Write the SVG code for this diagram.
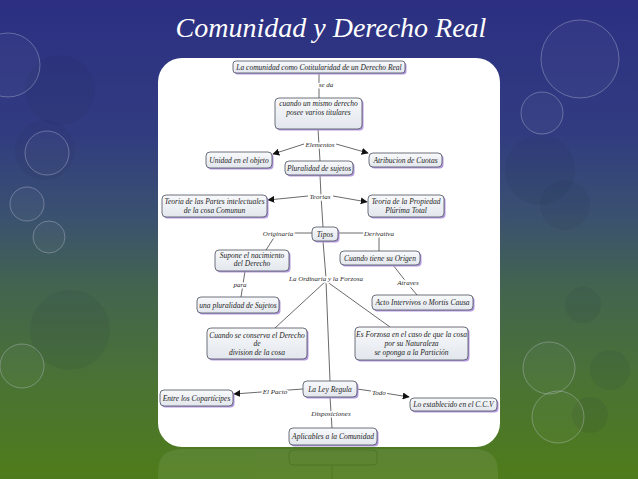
<svg xmlns="http://www.w3.org/2000/svg" width="638" height="479" viewBox="0 0 638 479">
<defs>
<linearGradient id="bg" x1="0" y1="0" x2="0" y2="1">
<stop offset="0" stop-color="#2c2f82"/>
<stop offset="0.28" stop-color="#313c80"/>
<stop offset="0.45" stop-color="#3a5170"/>
<stop offset="0.6" stop-color="#43644f"/>
<stop offset="0.8" stop-color="#4a7334"/>
<stop offset="1" stop-color="#4f7c1a"/>
</linearGradient>
<linearGradient id="nf" x1="0" y1="0" x2="0" y2="1">
<stop offset="0" stop-color="#f8f9fb"/>
<stop offset="1" stop-color="#e2e7ed"/>
</linearGradient>
<marker id="ah" viewBox="0 0 10 10" refX="9" refY="5" markerWidth="7" markerHeight="7" orient="auto" markerUnits="userSpaceOnUse">
<path d="M0,0 L10,5 L0,10 z" fill="#111"/>
</marker>
</defs>
<style>
.sh{fill:#b49ae0}
.nb{fill:url(#nf);stroke:#4a4e5c;stroke-width:0.8}
.nt{font-family:"Liberation Serif",serif;font-style:italic;font-size:7.5px;fill:#1e1e1e;text-anchor:middle}
.lb{font-family:"Liberation Serif",serif;font-style:italic;font-size:7px;fill:#2a2a2a;text-anchor:middle;stroke:#fff;stroke-width:3;paint-order:stroke}
.cn{stroke:#444;stroke-width:0.8;fill:none}
.ring{fill:#ffffff;fill-opacity:0.03;stroke:#c9cde0;stroke-opacity:0.45;stroke-width:0.8}
.blob{fill:#1c2a40;fill-opacity:0.08}
</style>
<rect x="0" y="0" width="638" height="479" fill="url(#bg)"/>
<g id="decor">
<circle class="blob" cx="60" cy="90" r="35"/>
<circle class="blob" cx="45" cy="150" r="30"/>
<circle class="blob" cx="70" cy="330" r="40"/>
<circle class="blob" cx="540" cy="170" r="35"/>
<circle class="blob" cx="565" cy="205" r="25"/>
<circle class="blob" cx="583" cy="305" r="18"/>
<circle class="blob" cx="610" cy="370" r="20"/>
<circle class="blob" cx="590" cy="415" r="18"/>
<circle class="ring" cx="8" cy="65" r="32"/>
<circle class="ring" cx="47" cy="153" r="22"/>
<circle class="ring" cx="27" cy="204" r="17"/>
<circle class="ring" cx="49" cy="237" r="16"/>
<circle class="ring" cx="22" cy="366" r="22"/>
<circle class="ring" cx="580" cy="59" r="39"/>
<circle class="ring" cx="542" cy="113" r="21"/>
<circle class="ring" cx="549" cy="368" r="26"/>
<circle class="ring" cx="558" cy="417" r="26"/>
</g>
<text x="331" y="37" font-family="'Liberation Serif',serif" font-style="italic" font-size="28" fill="#ffffff" text-anchor="middle">Comunidad y Derecho Real</text>
<g id="reflection" opacity="0.08">
<path d="M158,479 L158,472 Q158,449 183,449 L473,449 Q498,449 498,472 L498,479 Z" fill="#ffffff"/>
<rect x="289" y="450" width="88" height="15" rx="4" fill="none" stroke="#222" stroke-width="0.8"/>
<line x1="332" y1="465" x2="332" y2="479" stroke="#222" stroke-width="0.8"/>
</g>
<rect id="panel" x="158" y="58" width="342" height="389" rx="24" ry="24" fill="#ffffff"/>
<g id="connectors">
<line class="cn" x1="319" y1="73" x2="319" y2="98"/>
<line class="cn" x1="318" y1="129" x2="320" y2="161"/>
<path class="cn" d="M304,144 L273,154" marker-end="url(#ah)"/>
<path class="cn" d="M336,144 L368,153" marker-end="url(#ah)"/>
<line class="cn" x1="320" y1="175" x2="321" y2="196"/>
<path class="cn" d="M308,196 L268,200" marker-end="url(#ah)"/>
<path class="cn" d="M333,196 L367,202" marker-end="url(#ah)"/>
<line class="cn" x1="321" y1="196" x2="323" y2="227"/>
<line class="cn" x1="312" y1="233" x2="290" y2="233"/>
<line class="cn" x1="275" y1="236" x2="266" y2="250"/>
<line class="cn" x1="338" y1="233" x2="365" y2="233"/>
<line class="cn" x1="379" y1="236" x2="379" y2="251"/>
<line class="cn" x1="245" y1="271" x2="241" y2="297"/>
<polyline class="cn" points="393,265 407,283 417,295"/>
<line class="cn" x1="323" y1="241" x2="326" y2="278"/>
<line class="cn" x1="326" y1="281" x2="275" y2="328"/>
<line class="cn" x1="326" y1="281" x2="330" y2="381"/>
<line class="cn" x1="326" y1="281" x2="390" y2="327"/>
<path class="cn" d="M303,389 L275,391 L234,394" marker-end="url(#ah)"/>
<path class="cn" d="M357,389 L378,392 L409,397" marker-end="url(#ah)"/>
<line class="cn" x1="330" y1="397" x2="332" y2="428"/>
</g>
<g id="labels">
<text class="lb" x="326" y="86.5">se da</text>
<text class="lb" x="320" y="146.5">Elementos</text>
<text class="lb" x="320" y="198.5">Teorias</text>
<text class="lb" x="278" y="235.5">Originaria</text>
<text class="lb" x="379" y="235.5">Derivativa</text>
<text class="lb" x="240" y="286.5">para</text>
<text class="lb" x="408" y="284.5">Atraves</text>
<text class="lb" x="326" y="280.5">La Ordinaria y la Forzosa</text>
<text class="lb" x="275" y="394">El Pacto</text>
<text class="lb" x="379" y="394.5">Todo</text>
<text class="lb" x="331" y="415.5">Disposiciones</text>
</g>
<g id="n1"><rect class="sh" x="234.5" y="62.5" width="172" height="12" rx="3"/><rect class="nb" x="233" y="61" width="172" height="12" rx="3"/><text class="nt" x="319" y="69.5">La comunidad  como Cotitularidad de un Derecho Real</text></g>
<g id="n2"><rect class="sh" x="276.5" y="99.5" width="87" height="31" rx="4"/><rect class="nb" x="275" y="98" width="87" height="31" rx="4"/><text class="nt" x="318.5" y="105.5">cuando un mismo derecho</text><text class="nt" x="318.5" y="115">posee varios titulares</text></g>
<g id="n3"><rect class="sh" x="207.5" y="153.5" width="66" height="16" rx="4"/><rect class="nb" x="206" y="152" width="66" height="16" rx="4"/><text class="nt" x="239" y="162.5">Unidad en el objeto</text></g>
<g id="n4"><rect class="sh" x="286.5" y="162.5" width="68" height="14" rx="4"/><rect class="nb" x="285" y="161" width="68" height="14" rx="4"/><text class="nt" x="319" y="170.5">Pluralidad de sujetos</text></g>
<g id="n5"><rect class="sh" x="370.5" y="154.5" width="73" height="14" rx="4"/><rect class="nb" x="369" y="153" width="73" height="14" rx="4"/><text class="nt" x="405.5" y="162.5">Atribucion de Cuotas</text></g>
<g id="n6"><rect class="sh" x="163.5" y="196.5" width="105" height="22" rx="4"/><rect class="nb" x="162" y="195" width="105" height="22" rx="4"/><text class="nt" x="214.5" y="203.5">Teoria de las Partes intelectuales</text><text class="nt" x="214.5" y="212.5">de la cosa Comunun</text></g>
<g id="n7"><rect class="sh" x="369.5" y="196.5" width="76" height="22" rx="4"/><rect class="nb" x="368" y="195" width="76" height="22" rx="4"/><text class="nt" x="406" y="203.5">Teoria de la Propiedad</text><text class="nt" x="406" y="212.5">Plúrima Total</text></g>
<g id="n8"><rect class="sh" x="313.5" y="228.5" width="26" height="14" rx="4"/><rect class="nb" x="312" y="227" width="26" height="14" rx="4"/><text class="nt" x="325" y="236.5">Tipos</text></g>
<g id="n9"><rect class="sh" x="216.5" y="251.5" width="74" height="21" rx="4"/><rect class="nb" x="215" y="250" width="74" height="21" rx="4"/><text class="nt" x="252" y="257.5">Supone el nacimiento</text><text class="nt" x="252" y="266">del Derecho</text></g>
<g id="n10"><rect class="sh" x="341.5" y="252.5" width="80" height="14" rx="4"/><rect class="nb" x="340" y="251" width="80" height="14" rx="4"/><text class="nt" x="380" y="260.5">Cuando tiene su Origen</text></g>
<g id="n11"><rect class="sh" x="198.5" y="298.5" width="82" height="16" rx="4"/><rect class="nb" x="197" y="297" width="82" height="16" rx="4"/><text class="nt" x="238" y="307.5">una pluralidad de Sujetos</text></g>
<g id="n12"><rect class="sh" x="373.5" y="296.5" width="101" height="15" rx="4"/><rect class="nb" x="372" y="295" width="101" height="15" rx="4"/><text class="nt" x="422.5" y="305">Acto Intervivos o Mortis Causa</text></g>
<g id="n13"><rect class="sh" x="208.5" y="329.5" width="100" height="31" rx="4"/><rect class="nb" x="207" y="328" width="100" height="31" rx="4"/><text class="nt" x="257" y="337.5">Cuando se conserva el Derecho</text><text class="nt" x="257" y="346">de</text><text class="nt" x="257" y="354.5">division de la cosa</text></g>
<g id="n14"><rect class="sh" x="356.5" y="328.5" width="113" height="33" rx="4"/><rect class="nb" x="355" y="327" width="113" height="33" rx="4"/><text class="nt" x="411.5" y="336.5">Es Forzosa en el caso de que la cosa</text><text class="nt" x="411.5" y="345.5">por su Naturaleza</text><text class="nt" x="411.5" y="354.5">se oponga a la Partición</text></g>
<g id="n15"><rect class="sh" x="304.5" y="382.5" width="54" height="16" rx="4"/><rect class="nb" x="303" y="381" width="54" height="16" rx="4"/><text class="nt" x="330" y="391.5">La Ley Regula</text></g>
<g id="n16"><rect class="sh" x="161.5" y="391.5" width="73" height="16" rx="4"/><rect class="nb" x="160" y="390" width="73" height="16" rx="4"/><text class="nt" x="196.5" y="400.5">Entre los Copartícipes</text></g>
<g id="n17"><rect class="sh" x="411.5" y="399.5" width="87" height="13" rx="4"/><rect class="nb" x="410" y="398" width="87" height="13" rx="4"/><text class="nt" x="453.5" y="407">Lo establecido en el C.C.V</text></g>
<g id="n18"><rect class="sh" x="290.5" y="429.5" width="88" height="17" rx="4"/><rect class="nb" x="289" y="428" width="88" height="17" rx="4"/><text class="nt" x="333" y="439">Aplicables a la Comunidad</text></g>
</svg>
